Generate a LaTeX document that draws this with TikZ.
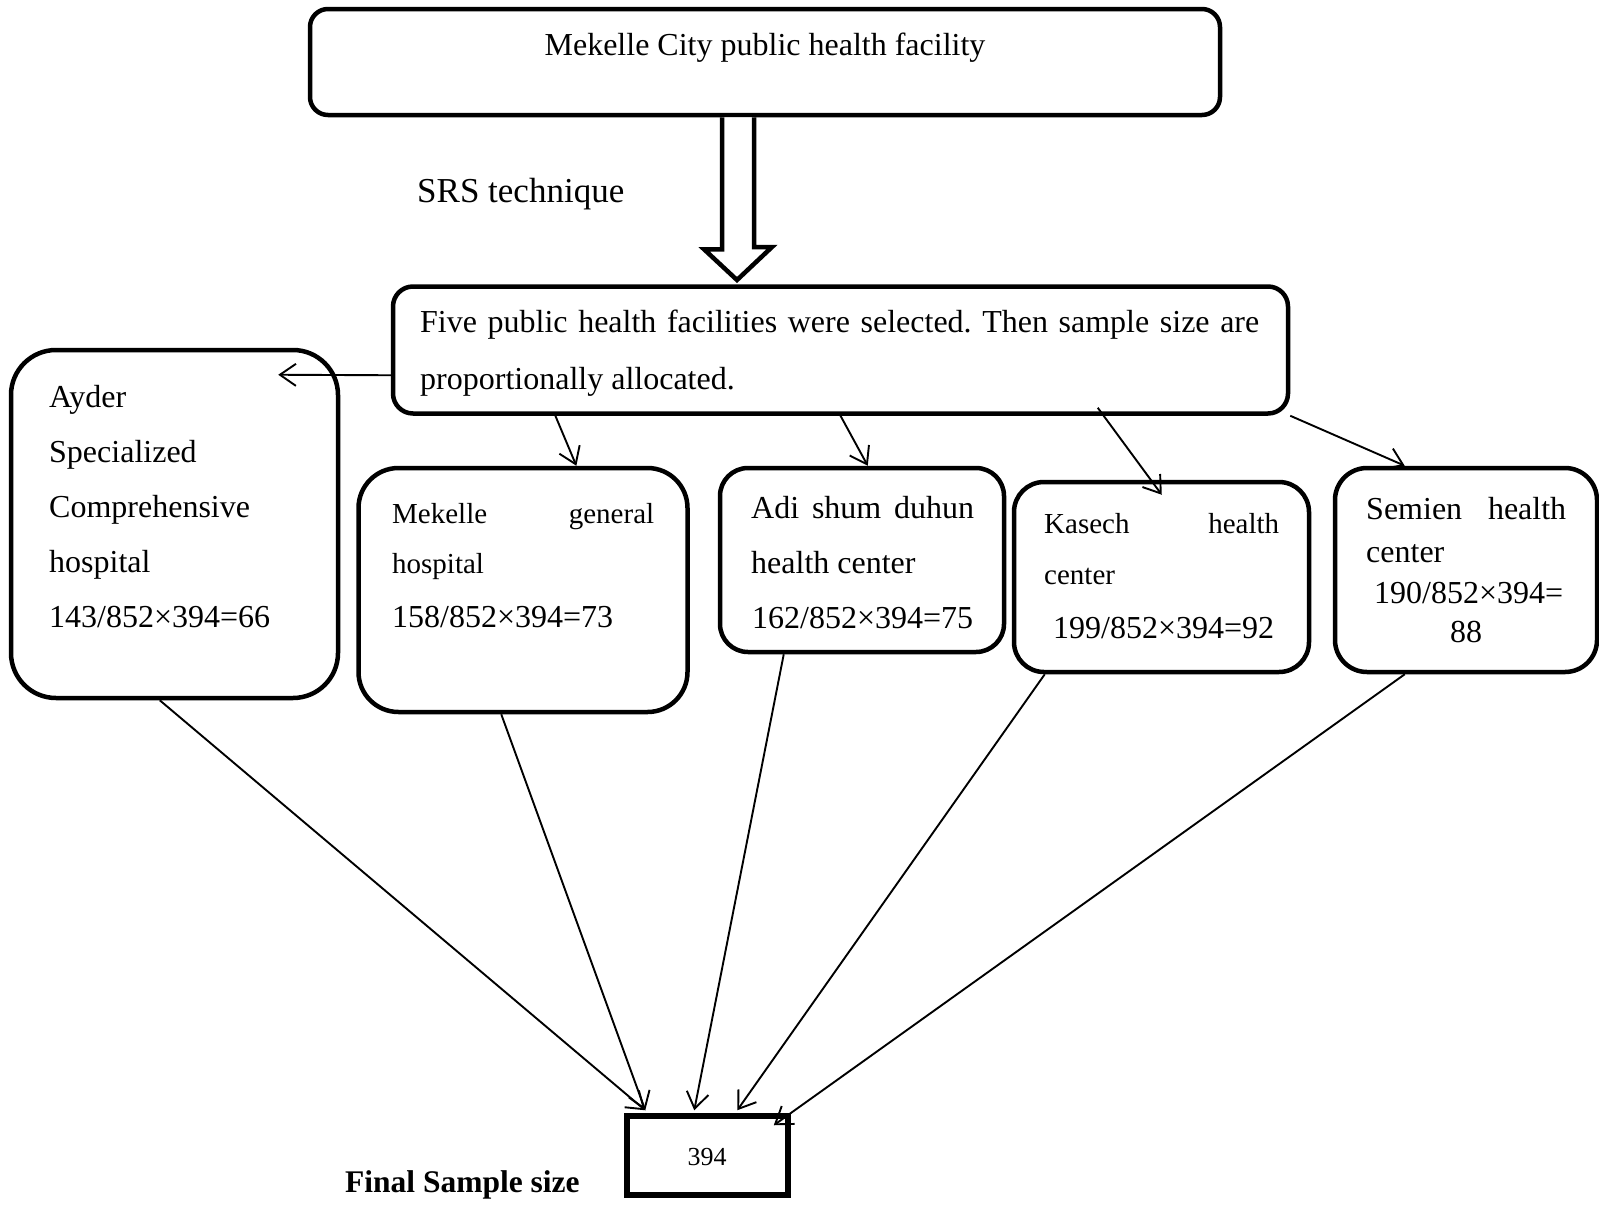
\documentclass[tikz,border=0pt]{standalone}
\usepackage{fontspec}
\setmainfont{Liberation Serif}
\usetikzlibrary{calc,arrows.meta}
\frenchspacing
\begin{document}
\begin{tikzpicture}[x=1pt,y=-1pt,
  box/.style={draw, line width=4.5pt, rounded corners=#1, inner sep=0pt},
  box/.default=20pt,
  txt/.style={inner sep=0pt, anchor=base west, font=\fontsize{32}{38}\selectfont},
  txts/.style={inner sep=0pt, anchor=base west, font=\fontsize{29}{35}\selectfont},
  conn/.style={line width=1.9pt, -{Straight Barb[length=16pt,width=22pt,line width=1.9pt]}}]
\useasboundingbox (0,0) rectangle (1599,1205);

% boxes
\node[box=18pt, minimum width=910pt, minimum height=106pt] (top) at (765,62) {};
\node[box=20pt, minimum width=895pt, minimum height=127pt] (five) at (840.5,350) {};
\node[box=45pt, minimum width=327pt, minimum height=348pt] (ayder) at (174.5,524) {};
\node[box=40pt, minimum width=329pt, minimum height=244pt] (mek) at (523,590) {};
\node[box=28pt, minimum width=284pt, minimum height=184pt] (adi) at (862,560) {};
\node[box=30pt, minimum width=295pt, minimum height=190pt] (kas) at (1161.5,577) {};
\node[box=32pt, minimum width=262pt, minimum height=204pt] (sem) at (1466,570) {};
\node[draw, line width=5.5pt, inner sep=0pt, minimum width=161pt, minimum height=79pt] (final) at (707.5,1155.5) {};

% texts
\node[inner sep=0pt, anchor=base, font=\fontsize{32}{38}\selectfont] (ttop) at (765,55) {Mekelle City public health facility};
\node[inner sep=0pt, anchor=base west, font=\fontsize{35}{42}\selectfont] (srs) at (417,202) {SRS technique};
\node[txt] (tfive1) at (420,332) {\makebox[839pt][s]{Five public health facilities were selected. Then sample size are}};
\node[txt] (tfive2) at (420,389) {proportionally allocated.};

\node[txt] (ta1) at (49,407) {Ayder};
\node[txt] (ta2) at (49,462) {Specialized};
\node[txt] (ta3) at (49,517) {Comprehensive};
\node[txt] (ta4) at (49,572) {hospital};
\node[txt] (ta5) at (49,627) {143/852×394=66};

\node[txts] (tm1) at (392,523) {\makebox[262pt][s]{Mekelle\hfill general}};
\node[txts] (tm2) at (392,573) {hospital};
\node[txt] (tm3) at (392,627) {158/852×394=73};

\node[txt] (td1) at (751,518) {\makebox[223pt][s]{Adi shum duhun}};
\node[txt] (td2) at (751,573) {health center};
\node[txt] (td3) at (752,628) {162/852×394=75};

\node[txts] (tk1) at (1044,533) {\makebox[235pt][s]{Kasech\hfill health}};
\node[txts] (tk2) at (1044,584) {center};
\node[txt] (tk3) at (1053,638) {199/852×394=92};

\node[txt] (ts1) at (1366,519) {\makebox[200pt][s]{Semien\hfill health}};
\node[txt] (ts2) at (1366,562) {center};
\node[txt] (ts3) at (1374,603) {190/852×394=};
\node[inner sep=0pt, anchor=base, font=\fontsize{32}{38}\selectfont] (ts4) at (1466,642) {88};

\node[inner sep=0pt, anchor=base, font=\fontsize{26}{31}\selectfont] (tfin) at (707,1165) {394};
\node[inner sep=0pt, anchor=base west, font=\fontsize{31.5}{38}\selectfont\bfseries] (tfinal) at (345,1192) {Final Sample size};

% big hollow arrow
\draw[line width=4.5pt, line join=miter, fill=white]
  ($(top.south)+(-43,0)$) coordinate (bs1)
  -- ++(0,132) -- ++(-18,0) -- (737,280) coordinate (btip)
  -- (772,247) -- (754,247) -- ($(top.south)+(-11,0)$);

% connectors from five
\coordinate (aydend) at ($(ayder.north east)+(-62,27)$);
\draw[conn] ($(five.north west)+(0,91)$) -- (aydend);
\draw[conn] ($(five.south west)!0.183!(five.south east)$) -- ($(mek.north west)!0.66!(mek.north east)$);
\draw[conn] ($(five.south west)!0.50!(five.south east)$) -- ($(adi.north west)!0.52!(adi.north east)$);
\coordinate (kasend) at ($(kas.north west)+(150,15)$);
\draw[conn] ($(five.south west)+(707,-8)$) -- (kasend);
\draw[conn] ($(five.south east)+(0,0)$) -- ($(sem.north west)!0.27!(sem.north east)$);

% connectors to final
\draw[conn] ($(ayder.south west)+(151,0)$) -- ($(final.north west)+(21,-3)$);
\draw[conn] ($(mek.south west)+(145,0)$) -- ($(final.north west)+(21,-3)$);
\draw[conn] ($(adi.south west)+(66,0)$) -- ($(final.north west)+(70,-3)$);
\draw[conn] ($(kas.south west)+(33,0)$) -- ($(final.north west)+(113,-3)$);
\draw[conn] ($(sem.south west)+(72,0)$) -- ($(final.north east)+(-17,12)$);
\end{tikzpicture}
\end{document}
